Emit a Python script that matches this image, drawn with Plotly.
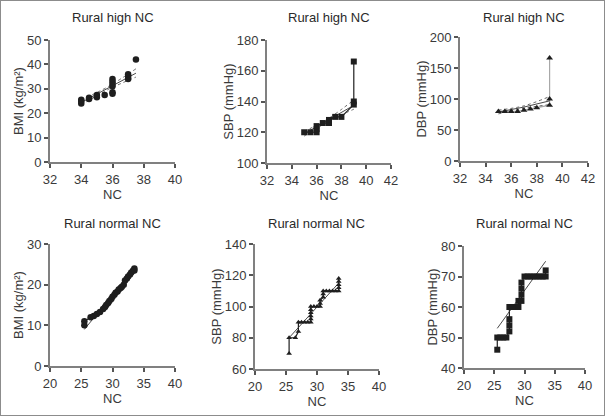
import plotly.graph_objects as go

# ---------------- data ----------------
# Panel 1: Rural high NC, BMI
p1_nc = [34, 34, 34, 34.5, 34.5, 35, 35, 35.5, 36, 36, 36, 36, 36, 36, 37, 37, 37, 37.5]
p1_val = [24, 25, 25.5, 25.8, 26.3, 26.5, 27.5, 27.5, 28, 28.6, 31, 32, 33, 34, 34, 35, 36, 42]
p1_fit_x = [34, 35.75, 37.5]
p1_fit = [24.4, 30.4, 36.4]
p1_ci_lo = [23.4, 29.8, 34.8]
p1_ci_hi = [25.4, 31.0, 38.2]

# Panel 2: Rural high NC, SBP
p2_nc = [35, 35.5, 36, 36, 36, 36.5, 37, 37, 37.5, 38, 39, 39, 39]
p2_val = [120, 120, 120, 122, 124, 126, 126, 128, 130, 130, 138, 140, 166]
p2_fit_x = [35, 37, 39]
p2_fit = [119, 128.2, 137.5]
p2_ci_lo = [117.5, 127.2, 135]
p2_ci_hi = [120.5, 129.2, 141]

# Panel 3: Rural high NC, DBP
p3_nc = [35, 35.5, 36, 36.5, 37, 37.5, 38, 39, 39, 39]
p3_val = [80, 80, 80, 80, 82, 84, 86, 90, 100, 166]
p3_fit_x = [35, 37, 39]
p3_fit = [79, 87, 97]
p3_ci_lo = [76, 85, 91]
p3_ci_hi = [82, 89, 104]

# Panel 4: Rural normal NC, BMI
p4_nc = [25.5, 25.5, 26.5, 27, 27.5, 28, 28.5, 28.8, 29, 29.3, 29.5, 29.8, 30, 30.3,
         30.5, 30.8, 31, 31.3, 31.5, 31.8, 32, 32.3, 32.5, 32.8, 33, 33.3, 33.5, 33.5]
p4_val = [10, 11, 12, 12.3, 12.8, 13.3, 14, 14.5, 15, 15.5, 16, 16.5, 17, 17.5,
          18, 18.3, 18.8, 19.2, 19.5, 20, 21, 21.5, 22, 22.5, 23, 23.5, 23.5, 24]
p4_fit_x = [25.5, 33.5]
p4_fit = [9, 24]

# Panel 5: Rural normal NC, SBP
p5_nc = [25.5, 25.5, 26.5, 27, 27, 27.5, 28, 28.5, 29, 29, 29, 29, 29, 29,
         29.5, 30, 30.5, 30.5, 30.5, 31, 31, 31, 31.5, 32, 32.5, 33, 33.5, 33.5, 33.5, 33.5, 33.5]
p5_val = [70, 80, 80, 84, 90, 90, 90, 90, 90, 92, 94, 96, 98, 100,
          100, 100, 100, 102, 104, 106, 108, 110, 110, 110, 110, 110, 110, 112, 114, 116, 118]
p5_fit_x = [25.5, 33.5]
p5_fit = [80, 115]

# Panel 6: Rural normal NC, DBP
p6_nc = [25.5, 25.5, 26, 26.5, 27, 27.5, 27.5, 27.5, 27.5, 28, 28.5, 29, 29, 29.5, 29.5, 29.5, 29.5,
         30, 30.5, 31, 31.5, 32, 32.5, 33, 33.5, 33.5]
p6_val = [46, 50, 50, 50, 50, 52, 54, 56, 60, 60, 60, 60, 62, 62, 64, 66, 68,
          70, 70, 70, 70, 70, 70, 70, 70, 72]
p6_fit_x = [25.5, 33.5]
p6_fit = [53, 75]

titles = ["Rural high NC", "Rural high NC", "Rural high NC",
          "Rural normal NC", "Rural normal NC", "Rural normal NC"]
ylabels = ["BMI (kg/m²)", "SBP (mmHg)", "DBP (mmHg)",
           "BMI (kg/m²)", "SBP (mmHg)", "DBP (mmHg)"]
xlabel = "NC"

# ---------------- layout geometry ----------------
W, H = 605, 416
px_x = [(50, 175), (267, 391), (460, 588), (50, 175), (255, 379), (464, 585)]
px_y = [(40, 162), (40, 163), (37, 161), (244, 366), (244, 369), (246, 368)]
x_ranges = [(32, 40), (32, 42), (32, 42), (20, 40), (20, 40), (20, 40)]
x_dticks = [2, 2, 2, 5, 5, 5]
y_ranges = [(0, 50), (100, 180), (0, 200), (0, 30), (60, 140), (40, 80)]
y_dticks = [10, 20, 50, 10, 20, 10]

INK = "#1e1e1e"
AXIS = "#808080"
FONT = "Liberation Sans, Arial, sans-serif"

fig = go.Figure()

panels = [
    (p1_nc, p1_val, "circle", False, None),
    (p2_nc, p2_val, "square", True, INK),
    (p3_nc, p3_val, "triangle-up", True, "#a8a8a8"),
    (p4_nc, p4_val, "circle", True, INK),
    (p5_nc, p5_val, "triangle-up", True, INK),
    (p6_nc, p6_val, "square", True, INK),
]
fits = [
    (p1_fit_x, p1_fit, p1_ci_lo, p1_ci_hi),
    (p2_fit_x, p2_fit, p2_ci_lo, p2_ci_hi),
    (p3_fit_x, p3_fit, p3_ci_lo, p3_ci_hi),
    (p4_fit_x, p4_fit, None, None),
    (p5_fit_x, p5_fit, None, None),
    (p6_fit_x, p6_fit, None, None),
]
msizes = [6.5, 6, 6, 6.5, 5, 6]

for i, ((xs, ys, sym, connect, lcol), (fx, fy, lo, hi)) in enumerate(zip(panels, fits)):
    n = "" if i == 0 else str(i + 1)
    xa, ya = "x" + n, "y" + n
    if connect:
        fig.add_trace(go.Scatter(x=xs, y=ys, mode="lines", xaxis=xa, yaxis=ya,
                                 line=dict(color=lcol, width=1.2), showlegend=False,
                                 hoverinfo="skip"))
    fig.add_trace(go.Scatter(x=fx, y=fy, mode="lines", xaxis=xa, yaxis=ya,
                             line=dict(color="#333333", width=0.9), showlegend=False))
    if lo is not None:
        for band in (lo, hi):
            fig.add_trace(go.Scatter(x=fx, y=band, mode="lines", xaxis=xa, yaxis=ya,
                                     line=dict(color="#555555", width=0.9, dash="dot",
                                               shape="spline"),
                                     showlegend=False))
    fig.add_trace(go.Scatter(x=xs, y=ys, mode="markers", xaxis=xa, yaxis=ya,
                             marker=dict(symbol=sym, size=msizes[i], color=INK),
                             showlegend=False))

layout = dict(
    autosize=True,
    margin=dict(l=0, r=0, t=0, b=0, autoexpand=False),
    paper_bgcolor="white", plot_bgcolor="white",
    font=dict(family=FONT, color="#333333", size=13),
    annotations=[], shapes=[],
)

for i in range(6):
    n = "" if i == 0 else str(i + 1)
    x0, x1 = px_x[i]
    yt, yb = px_y[i]
    xdom = [x0 / W, x1 / W]
    ydom = [(H - yb) / H, (H - yt) / H]
    layout["xaxis" + n] = dict(
        domain=xdom, anchor="y" + n, range=list(x_ranges[i]), dtick=x_dticks[i],
        tick0=x_ranges[i][0], showgrid=False, zeroline=False, showline=True,
        linecolor=AXIS, linewidth=2, ticks="outside", ticklen=4, tickwidth=1.5,
        tickcolor="#555555", tickfont=dict(size=13, color="#3a3a3a"),
        title=dict(text=xlabel, font=dict(size=13, color="#3a3a3a"), standoff=1),
    )
    layout["yaxis" + n] = dict(
        domain=ydom, anchor="x" + n, range=list(y_ranges[i]), dtick=y_dticks[i],
        tick0=y_ranges[i][0], showgrid=False, zeroline=False, showline=True,
        linecolor=AXIS, linewidth=2, ticks="outside", ticklen=4, tickwidth=1.5,
        tickcolor="#555555", tickfont=dict(size=13, color="#3a3a3a"),
        title=dict(text=ylabels[i], font=dict(size=13, color="#3a3a3a"), standoff=0),
    )
    ty = (H - (18 if i < 3 else 223)) / H
    layout["annotations"].append(dict(
        text=titles[i], x=(xdom[0] + xdom[1]) / 2, y=ty, xref="paper", yref="paper",
        showarrow=False, font=dict(size=13, color="#2a2a2a"), xanchor="center", yanchor="middle"))

layout["shapes"].append(dict(type="rect", xref="paper", yref="paper", x0=0, y0=0, x1=1, y1=1,
                             line=dict(color="#8c8c8c", width=2)))

fig.update_layout(**layout)
fig.write_html("out.html", default_width="100vw", default_height="100vh",
               config={"displayModeBar": False, "responsive": True},
               post_script="document.body.style.margin='0';document.body.style.overflow='hidden';")
